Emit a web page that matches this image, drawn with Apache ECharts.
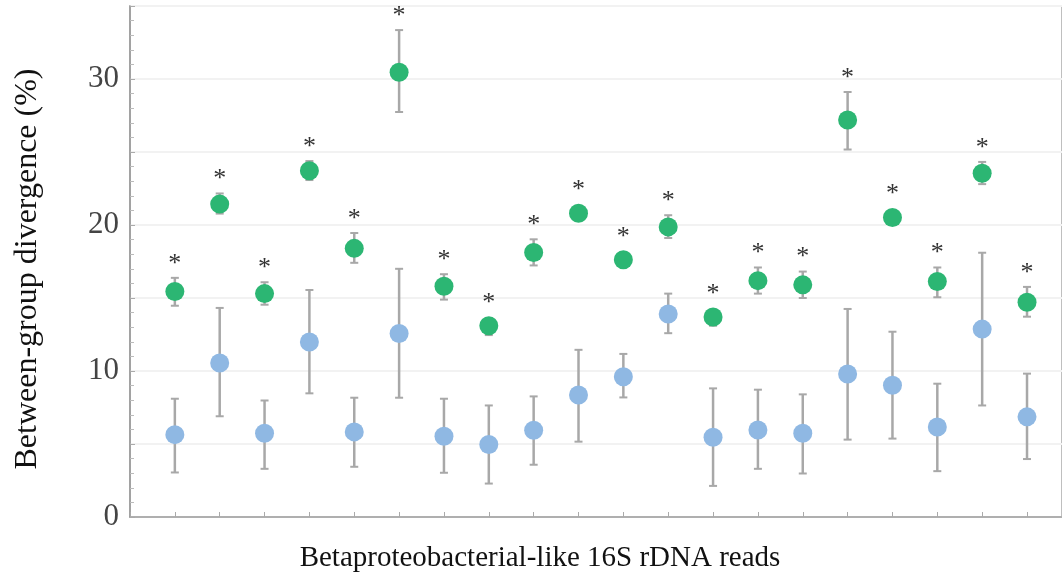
<!DOCTYPE html>
<html><head><meta charset="utf-8">
<script src="https://cdn.jsdelivr.net/npm/echarts@6/dist/echarts.min.js"></script>
<style>html,body{margin:0;padding:0;background:#fff}#c{width:1062px;height:582px}</style>
</head><body><div id="c"></div>
<script>
// Read positions (index along x) of the 20 read groups
const categories = [1,2,3,4,5,6,7,8,9,10,11,12,13,14,15,16,17,18,19,20];
// Green group: mean and error bar bounds (%)
const greenMean = [15.44,21.43,15.30,23.72,18.40,30.46,15.81,13.10,18.12,20.81,17.62,19.87,13.70,16.19,15.90,27.19,20.51,16.13,23.54,14.71];
const greenLow  = [14.47,20.78,14.54,23.08,17.41,27.74,14.89,12.46,17.23,20.60,17.45,19.11,13.10,15.30,15.00,25.17,20.30,15.05,22.80,13.72];
const greenHigh = [16.38,22.16,16.08,24.38,19.45,33.35,16.63,13.60,19.02,21.00,17.80,20.67,14.10,17.09,16.81,29.11,20.70,17.09,24.32,15.76];
// Blue group: mean and error bar bounds (%)
const blueMean = [5.64,10.55,5.73,11.98,5.83,12.57,5.53,4.96,5.94,8.35,9.61,13.90,5.46,5.96,5.73,9.79,9.02,6.17,12.87,6.86];
const blueLow  = [3.05,6.90,3.30,8.47,3.44,8.17,3.03,2.29,3.58,5.16,8.19,12.59,2.13,3.30,2.98,5.30,5.37,3.14,7.64,3.97];
const blueHigh = [8.10,14.32,7.98,15.55,8.17,17.00,8.10,7.64,8.26,11.45,11.17,15.30,8.81,8.72,8.40,14.25,12.69,9.13,18.10,9.82];
// Significance markers
const significant = categories.map(() => true);
const yTickLabels = [0,10,20,30];

const GREEN = '#2cb673', BLUE = '#8fb8e3', ERR = '#a8a8a8';
const serif = 'Liberation Serif, Times New Roman, serif';

function errData(low, high){ return categories.map((c,i)=>[i, low[i], high[i]]); }
function errRender(params, api){
  const x = api.value(0);
  const lo = api.coord([x, api.value(1)]);
  const hi = api.coord([x, api.value(2)]);
  const cap = 4;
  return {type:'group', children:[
    {type:'line', shape:{x1:lo[0],y1:lo[1],x2:hi[0],y2:hi[1]}, style:{stroke:ERR,lineWidth:2.5}},
    {type:'line', shape:{x1:lo[0]-cap,y1:lo[1],x2:lo[0]+cap,y2:lo[1]}, style:{stroke:ERR,lineWidth:2}},
    {type:'line', shape:{x1:hi[0]-cap,y1:hi[1],x2:hi[0]+cap,y2:hi[1]}, style:{stroke:ERR,lineWidth:2}}
  ]};
}
function starRender(params, api){
  const x = api.value(0);
  const m = api.coord([x, api.value(1)]);
  const hi = api.coord([x, api.value(2)]);
  const top = Math.min(hi[1], m[1]-9);
  return {type:'text', x:m[0], y:top-14, style:{text:'*', fontFamily:serif, fontSize:26, fill:'#333', align:'center', verticalAlign:'middle'}};
}

const chart = echarts.init(document.getElementById('c'), null, {renderer:'canvas'});
chart.setOption({
  animation:false,
  grid:{left:130, right:0, top:6, bottom:65, show:true, borderColor:'#aaa', borderWidth:1.5, backgroundColor:'transparent'},
  xAxis:{type:'value', min:-1, max:19.78, interval:1,
    axisLine:{show:true, onZero:false, lineStyle:{color:'#999', width:1.5}},
    axisTick:{show:true, inside:true, length:5, lineStyle:{color:'#aaa'}},
    axisLabel:{show:false}, splitLine:{show:false}},
  yAxis:{type:'value', min:0, max:35, interval:5,
    axisLine:{show:true, onZero:false, lineStyle:{color:'#999', width:1.5}},
    axisTick:{show:true, inside:true, length:5, lineStyle:{color:'#aaa'}},
    minorTick:{show:true, splitNumber:5, length:4, lineStyle:{color:'#bbb'}},
    axisLabel:{margin:11, color:'#444', fontFamily:serif, fontSize:31,
      formatter:v => yTickLabels.indexOf(v) >= 0 ? String(v) : ''},
    splitLine:{show:true, lineStyle:{color:'#f2f2f2', width:2}}},
  graphic:[
    {type:'text', x:28, y:269, rotation:Math.PI/2, style:{text:'Between-group divergence (%)', fontFamily:serif, fontSize:32, fill:'#111', align:'center', verticalAlign:'middle'}},
    {type:'text', x:540, y:558, style:{text:'Betaproteobacterial-like 16S rDNA reads', fontFamily:serif, fontSize:29, fill:'#111', align:'center', verticalAlign:'middle'}}
  ],
  series:[
    {type:'custom', name:'blueErr', renderItem:errRender, data:errData(blueLow, blueHigh), z:1, silent:true},
    {type:'custom', name:'greenErr', renderItem:errRender, data:errData(greenLow, greenHigh), z:1, silent:true},
    {type:'scatter', name:'blue', data:categories.map((c,i)=>[i, blueMean[i]]), symbolSize:19, itemStyle:{color:BLUE, opacity:1}, z:3},
    {type:'scatter', name:'green', data:categories.map((c,i)=>[i, greenMean[i]]), symbolSize:19, itemStyle:{color:GREEN, opacity:1}, z:3},
    {type:'custom', name:'stars', renderItem:starRender, data:categories.map((c,i)=>significant[i] ? [i, greenMean[i], greenHigh[i]] : null).filter(Boolean), z:4, silent:true}
  ]
});
</script></body></html>
